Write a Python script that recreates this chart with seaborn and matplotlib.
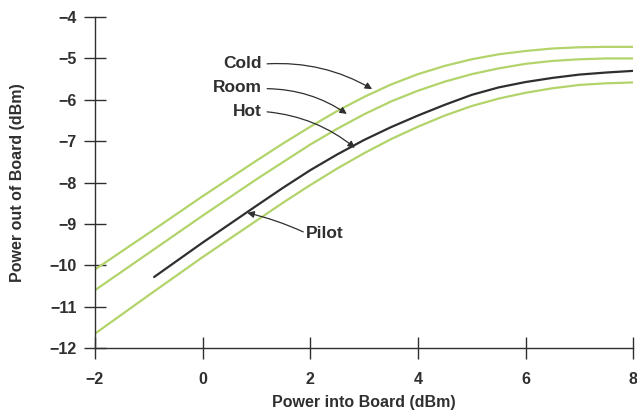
import pandas as pd
import seaborn as sns
from matplotlib import pyplot as plt

# 数据
x_temp = [-2, -1, 0, 1, 1.5, 2, 2.5, 3, 3.5, 4, 4.5, 5, 5.5, 6, 6.5, 7, 7.5, 8]
cold = [-10.1, -9.22, -8.33, -7.47, -7.05, -6.65, -6.27, -5.93, -5.63, -5.38,
        -5.18, -5.02, -4.9, -4.82, -4.76, -4.73, -4.72, -4.72]
room = [-10.6, -9.7, -8.8, -7.92, -7.5, -7.08, -6.7, -6.35, -6.04, -5.78,
        -5.56, -5.38, -5.24, -5.13, -5.06, -5.02, -5.0, -5.0]
hot = [-11.65, -10.72, -9.8, -8.92, -8.48, -8.06, -7.66, -7.29, -6.95, -6.65,
       -6.38, -6.15, -5.97, -5.83, -5.72, -5.64, -5.6, -5.58]

x_pilot = [-0.9, 0, 1, 1.5, 2, 2.5, 3, 3.5, 4, 4.5, 5, 5.5, 6, 6.5, 7, 7.5, 8]
pilot = [-10.28, -9.45, -8.56, -8.12, -7.7, -7.32, -6.97, -6.66, -6.38, -6.12,
         -5.88, -5.7, -5.57, -5.47, -5.39, -5.34, -5.3]

x_ticks = [-2, 0, 2, 4, 6, 8]
y_ticks = [-12, -11, -10, -9, -8, -7, -6, -5, -4]

green = "#b2d46a"
ink = "#2f2f2f"

df = pd.concat(
    [
        pd.DataFrame({"x": x_temp, "y": cold, "curve": "Cold"}),
        pd.DataFrame({"x": x_temp, "y": room, "curve": "Room"}),
        pd.DataFrame({"x": x_temp, "y": hot, "curve": "Hot"}),
        pd.DataFrame({"x": x_pilot, "y": pilot, "curve": "Pilot"}),
    ]
)

sns.set_style("ticks")
plt.rcParams["font.family"] = ["Liberation Sans", "DejaVu Sans"]
plt.rcParams["font.weight"] = "bold"

fig = plt.figure(figsize=(6.37, 4.16), dpi=100)
ax = fig.add_axes([0.149, 0.163, 0.845, 0.796])

palette = {"Cold": green, "Room": green, "Hot": green, "Pilot": ink}
sns.lineplot(
    df, x="x", y="y", hue="curve", palette=palette, ax=ax,
    legend=False, linewidth=1.6, estimator=None,
)

ax.set_xlim(-2, 8)
ax.set_ylim(-12, -4)
ax.set_xticks(x_ticks)
ax.set_yticks(y_ticks)
ax.set_yticklabels([f"\u2212{abs(v)}" for v in y_ticks])
ax.set_xticklabels([f"\u2212{abs(v)}" if v < 0 else str(v) for v in x_ticks])
ax.tick_params(direction="inout", length=16, width=1, colors=ink,
               labelsize=11.5, pad=5)
ax.tick_params(axis="x", pad=9)
for s in ("top", "right"):
    ax.spines[s].set_visible(False)
for s in ("left", "bottom"):
    ax.spines[s].set_color(ink)
    ax.spines[s].set_linewidth(1)

ax.set_xlabel("Power into Board (dBm)", fontsize=11.5, color=ink,
              fontweight="bold", labelpad=6)
ax.set_ylabel("Power out of Board (dBm)", fontsize=11.5, color=ink,
              fontweight="bold", labelpad=18)

arrow = dict(arrowstyle="-|>", color=ink, lw=0.9, mutation_scale=10,
             shrinkA=0, shrinkB=0)
notes = [
    ("Cold", (3.15, -5.74), (1.10, -5.12), (1.20, -5.13)),
    ("Room", (2.68, -6.34), (1.10, -5.71), (1.20, -5.73)),
    ("Hot", (2.83, -7.16), (1.10, -6.27), (1.20, -6.29)),
]
for label, tip, txt, start in notes:
    ax.text(txt[0], txt[1], label, ha="right", va="center",
            fontsize=12.5, color=ink, fontweight="bold")
    ax.annotate("", xy=tip, xytext=start,
                arrowprops=dict(arrow, connectionstyle="arc3,rad=-0.15"))

ax.text(1.92, -9.22, "Pilot", ha="left", va="center", fontsize=12.5,
        color=ink, fontweight="bold")
ax.annotate("", xy=(0.83, -8.73), xytext=(1.87, -9.19),
            arrowprops=dict(arrow, connectionstyle="arc3,rad=0.05"))

fig.savefig("out.png", dpi=100)
